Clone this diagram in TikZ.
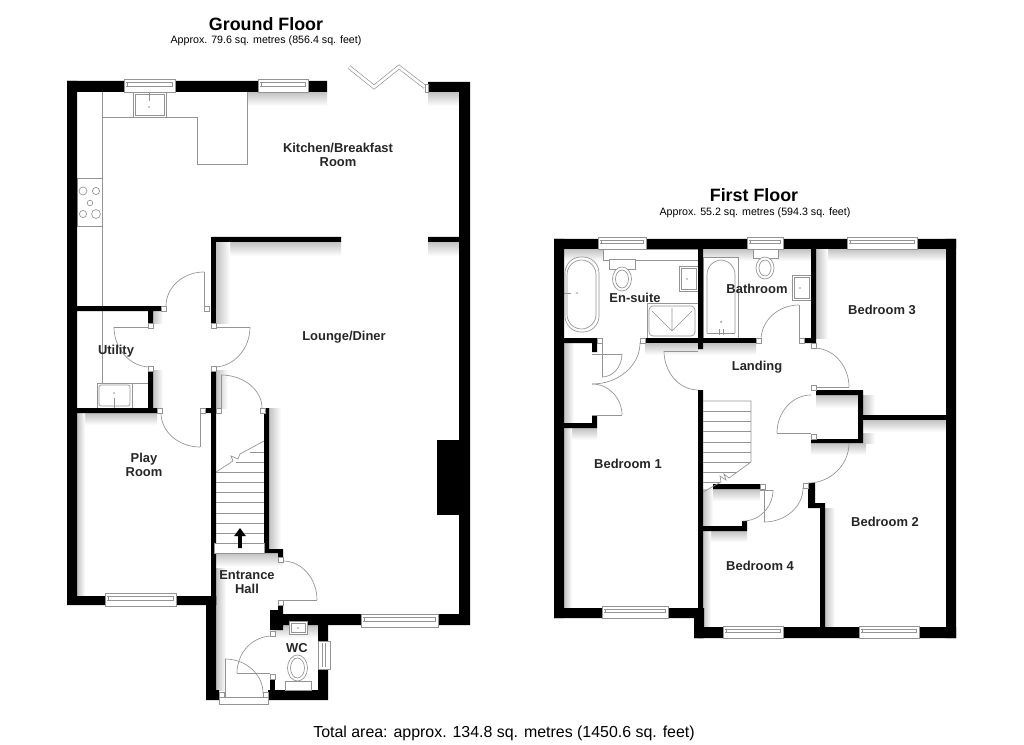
\documentclass[tikz,border=0pt]{standalone}
\usepackage{fontspec}
\setmainfont{Liberation Sans}
\usetikzlibrary{calc}

\definecolor{fixgray}{gray}{0.58}

\tikzset{
  wall/.style={fill=black},
  fixture/.style={draw=fixgray, line width=0.5pt, fill=white},
  doorline/.style={draw=fixgray, line width=0.5pt},
  jamb/.style={draw=fixgray, line width=0.5pt, fill=white},
  shadedown/.style={top color=black!24, bottom color=white, draw=none},
  shaderight/.style={left color=black!24, right color=white, draw=none},
  roomlabel/.style={font=\fontsize{9.7pt}{10.6pt}\selectfont\bfseries, align=center, text=black!85},
  title/.style={font=\fontsize{13.4pt}{15pt}\selectfont\bfseries},
  subtitle/.style={font=\fontsize{8pt}{9pt}\selectfont}
}

% quarter swing of a door: start, corner, end
\newcommand{\swing}[3]{\draw[doorline] (#1) .. controls ($(#1)!.55!(#2)$) and ($(#3)!.55!(#2)$) .. (#3);}

\begin{document}
\begin{tikzpicture}[x=0.75pt, y=-0.75pt]
  \useasboundingbox (0,0) rectangle (1024,745);
  \fill[white] (0,0) rectangle (1024,745);

  % Titles
  \node[title] (groundtitle) at (266,24) {Ground Floor};
  \node[subtitle] (groundarea) at (266,41) {Approx. 79.6 sq. metres (856.4 sq. feet)};
  \node[title] (firsttitle) at (754,195) {First Floor};
  \node[subtitle] (firstarea) at (755,213) {Approx. 55.2 sq. metres (594.3 sq. feet)};
  \node[font=\fontsize{11.95pt}{13pt}\selectfont] (totalarea) at (504,733) {Total area: approx. 134.8 sq. metres (1450.6 sq. feet)};

  % Shadows on the ground floor
  \shade[shadedown] (247,92) rectangle (327,106);
  \shade[shadedown] (428,92) rectangle (459,106);
  \shade[shadedown] (216,242) rectangle (341,256);
  \shade[shadedown] (428,242) rectangle (459,256);
  \shade[shaderight] (216,242) rectangle (230,323);
  \shade[shaderight] (153,311) rectangle (163,323);
  \shade[shaderight] (216,370) rectangle (228,408);
  \shade[shadedown] (77,413) rectangle (157,425);
  \shade[shaderight] (77,413) rectangle (85,596);
  \shade[shaderight] (153,370) rectangle (163,408);
  \shade[shaderight] (269,408) rectangle (281,549);
  \shade[shaderight] (216,553) rectangle (226,690);
  \shade[shadedown] (216,553) rectangle (283,567);
  \shade[shadedown] (275,625) rectangle (318,638);

  % Shadows on the first floor
  \shade[shadedown] (564,249) rectangle (698,261);
  \shade[shadedown] (703,249) rectangle (811,261);
  \shade[shadedown] (816,249) rectangle (946,261);
  \shade[shaderight] (816,249) rectangle (828,338);
  \shade[shadedown] (645,343) rectangle (756,355);
  \shade[shaderight] (564,343) rectangle (574,423);
  \shade[shadedown] (564,428) rectangle (597,440);
  \shade[shaderight] (564,428) rectangle (572,608);
  \shade[shadedown] (816,395) rectangle (858,408);
  \shade[shadedown] (811,443) rectangle (866,455);
  \shade[shaderight] (863,395) rectangle (875,443);
  \shade[shadedown] (863,420) rectangle (946,432);
  \shade[shadedown] (713,489) rectangle (760,501);
  \shade[shaderight] (703,489) rectangle (713,526);
  \shade[shadedown] (703,531) rectangle (747,542);
  \shade[shaderight] (703,531) rectangle (711,627);
  \shade[shaderight] (825,508) rectangle (835,627);

  % Kitchen units
  \draw[doorline] (102,92) -- (102,383);
  \draw[doorline] (102,117) -- (197.5,117) -- (197.5,164) -- (247,164) -- (247,92);
  \draw[fixture] (77,178) rectangle (102,226);
  \foreach \hx/\hy/\hr in {83/191/4, 96/191/3.6, 90/203/2.8, 83/214/3.6, 96/214/4.4}
    \draw[doorline] (\hx,\hy) circle (\hr);
  \draw[fixture] (133,92) rectangle (166,117);
  \draw[fixture] (135,94) rectangle (164,115);
  \draw[doorline] (149,92) -- (149,101);
  \fill[fixgray] (149,107) circle (0.8);

  % Utility units
  \draw[doorline] (102,383) -- (148,383);
  \draw[fixture] (97,383) rectangle (132,408);
  \draw[fixture, rounded corners=1.5pt] (99,385) rectangle (130,406);
  \draw[doorline] (114,398) -- (114,408);
  \fill[fixgray] (114,393) circle (0.8);

  % Ground floor walls
  \fill[wall] (67,81) rectangle (124,92) (175,81) rectangle (258,92) (308,81) rectangle (327,92);
  \fill[wall] (67,81) rectangle (77,605) (67,596) rectangle (105,605) (176,596) rectangle (216,605);
  \fill[wall] (428,82) rectangle (470,92) (459,82) rectangle (470,625) (438,614) rectangle (470,625);
  \fill[wall] (437,440) rectangle (459,515);
  \fill[wall] (212,237) rectangle (341,242) (428,237) rectangle (459,242);
  \fill[wall] (211,237) rectangle (216,323);
  \fill[wall] (77,306) rectangle (161,311) (148,311) rectangle (153,323);
  \fill[wall] (148,370) rectangle (153,408) (77,408) rectangle (157,413);
  \fill[wall] (205,408) rectangle (216,413) (211,370) rectangle (216,605);
  \fill[wall] (264,408) rectangle (269,553) (264,549) rectangle (283,553) (278,549) rectangle (283,557);
  % Hall, WC and porch walls
  \fill[wall] (206,596) rectangle (216,700) (206,690) rectangle (219,700);
  \fill[wall] (278,606) rectangle (283,614) (270,610) rectangle (283,630) (270,614) rectangle (361,625);
  \fill[wall] (318,625) rectangle (328,641) (318,669) rectangle (328,700) (268,690) rectangle (328,700);
  \fill[wall] (270,679) rectangle (275,690);

  % Stairs on the ground floor
  \draw[doorline] (216,472) -- (233,461) -- (231,456) -- (238,459) -- (240,454) -- (264,441);
  \foreach \sy in {472,482,492,502,513,523,533}
    \draw[doorline] (216,\sy) -- (264,\sy);
  \draw[doorline] (236,462) -- (264,462);
  \draw[doorline] (250,452) -- (264,452);
  \draw[fixture] (214,543) rectangle (264,553);
  \fill[black] (240,548) -- ++(-1.8,0) -- ++(0,-12) -- ++(-4,0) -- (240,528) -- (245.8,536) -- ++(-4,0) -- ++(0,12) -- cycle;

  % Ground floor windows
  \foreach \wa/\wb/\wy in {124/175/79, 258/308/79, 105/176/593, 361/438/614}{
    \draw[fixture] (\wa,\wy) rectangle (\wb,\wy+13);
    \draw[doorline] (\wa+2,\wy+3.5) -- (\wb-2,\wy+3.5) (\wa+2,\wy+7) -- (\wb-2,\wy+7);
    \draw[doorline] (\wa+3,\wy+3.5) -- (\wa+3,\wy+7) (\wb-3,\wy+3.5) -- (\wb-3,\wy+7);
  }
  \draw[fixture] (318,641) rectangle (330,669);
  \draw[doorline] (322,643) -- (322,667) (325.5,643) -- (325.5,667);

  % Folding door to the garden
  \draw[draw=fixgray, line width=0.5pt, double=white, double distance=2pt] (349,67) -- (374,87) -- (399,67) -- (425,87);
  \draw[jamb] (425,84) rectangle (428,92);

  % WC fittings
  \draw[fixture] (289,621) rectangle (307,634);
  \draw[fixture] (291,623) rectangle (305,632);
  \fill[fixgray] (298,628) circle (0.8);
  \draw[fixture] (285,681) rectangle (311,690);
  \draw[fixture] (297.5,668) ellipse (10 and 13);
  \draw[doorline] (297.5,668) ellipse (7 and 10);

  % Porch threshold
  \draw[fixture] (219,697) rectangle (268,704);
  \draw[jamb] (219,692) rectangle (224,697);
  \draw[jamb] (263,692) rectangle (268,697);

  % Ground floor door leaves
  \draw[doorline] (204,272) -- (204,306);
  \swing{204,272}{166,272}{166,306}
  \draw[doorline] (148,327) -- (114,327);
  \swing{114,327}{114,367}{150,367}
  \draw[doorline] (216,327) -- (250,327);
  \swing{250,327}{250,367}{214,367}
  \draw[doorline] (200,413) -- (200,447);
  \swing{200,447}{161,447}{161,413}
  \draw[doorline] (221,408) -- (221,375);
  \swing{221,375}{262,375}{262,408}
  \draw[doorline] (283,600) -- (317,600);
  \swing{317,600}{317,561}{283,561}
  \draw[doorline] (270,673) -- (237,673);
  \swing{237,673}{237,636}{272,636}
  \draw[doorline] (225,697) -- (225,659);
  \swing{225,659}{263,659}{263,693}
  \foreach \jx/\jy in {161/306, 204/306, 148/323, 148/366, 211/323, 211/366, 157/408, 200/408, 216/408, 260/408, 278/557, 278/600, 270/631, 270/674}
    \draw[jamb] (\jx,\jy) rectangle +(5,5);

  % En-suite fittings
  \draw[fixture, rounded corners=12pt] (565,257) rectangle (599,332);
  \draw[doorline, rounded corners=11pt] (567,260) rectangle (596,329);
  \fill[fixgray] (577,293) circle (0.8);
  \draw[doorline] (564,293) -- (571,293);
  \draw[fixture] (603,249) rectangle (698,260);
  \draw[fixture] (609,259) rectangle (635,269);
  \draw[fixture] (622,279) ellipse (9.5 and 12);
  \draw[doorline] (622,279) ellipse (6.5 and 9);
  \draw[fixture] (679,266) rectangle (698,291);
  \draw[fixture] (681,268) rectangle (696,289);
  \fill[fixgray] (687,279) circle (0.8);
  \draw[fixture] (647,303) rectangle (698,338);
  \draw[fixture, rounded corners=3pt] (649,306) rectangle (695,336);
  \draw[doorline] (652,311) -- (672,331) (672,308) -- (672,331) (692,311) -- (672,331);

  % Bathroom fittings
  \draw[fixture] (703,257) rectangle (738,338);
  \draw[doorline, rounded corners=11pt] (707,333) -- (707,260) -- (735,260) -- (735,333);
  \draw[doorline] (707,333) -- (735,333);
  \fill[fixgray] (721,322) circle (1);
  \draw[doorline] (719,329) -- (719,335) (723,329) -- (723,335);
  \draw[fixture] (753,249) rectangle (778,258);
  \draw[fixture] (765,268) ellipse (9 and 11);
  \draw[doorline] (765,268) ellipse (6 and 8);
  \draw[fixture] (792,275) rectangle (811,300);
  \draw[fixture] (794,277) rectangle (809,298);
  \fill[fixgray] (800,288) circle (0.8);

  % First floor walls
  \fill[wall] (554,239) rectangle (598,249) (646,239) rectangle (747,249) (783,239) rectangle (847,249) (917,239) rectangle (956,249);
  \fill[wall] (554,239) rectangle (564,618) (946,239) rectangle (956,638);
  \fill[wall] (554,608) rectangle (602,618) (668,608) rectangle (704,618) (694,608) rectangle (704,638);
  \fill[wall] (694,627) rectangle (723,638) (783,627) rectangle (859,638) (919,627) rectangle (956,638);
  \fill[wall] (698,249) rectangle (703,349) (698,390) rectangle (703,638);
  \fill[wall] (811,249) rectangle (816,343) (804,338) rectangle (816,343);
  \fill[wall] (645,338) rectangle (756,343);
  \fill[wall] (564,338) rectangle (597,343) (592,343) rectangle (597,352);
  \fill[wall] (592,415) rectangle (597,428) (564,423) rectangle (597,428);
  % Cupboard on the landing
  \fill[wall] (816,390) rectangle (863,395) (858,390) rectangle (863,443) (811,439) rectangle (863,443);
  \fill[wall] (863,415) rectangle (946,420);
  \fill[wall] (713,484) rectangle (760,489) (703,526) rectangle (747,531) (742,521) rectangle (747,531);
  % Bedroom 2 wall
  \fill[wall] (808,483) -- (815,483) -- (815,503) -- (825,503) -- (825,628) -- (820,628) -- (820,508) -- (808,508) -- cycle;

  % Stairs on the first floor
  \draw[doorline] (703,401) -- (751,401) -- (751,462) -- (729,478) -- (724,474) -- (726,480) -- (720,476) -- (721,482) -- (703,492);
  \foreach \sy in {411,421,431,442,452,462}
    \draw[doorline] (703,\sy) -- (751,\sy);
  \draw[doorline] (703,472) -- (737,472);
  \draw[doorline] (703,482) -- (720,482);

  % First floor windows
  \foreach \wa/\wb/\wy in {598/646/237, 747/783/237, 847/917/237, 602/668/606, 723/783/626, 859/919/626}{
    \draw[fixture] (\wa,\wy) rectangle (\wb,\wy+12);
    \draw[doorline] (\wa+2,\wy+3) -- (\wb-2,\wy+3) (\wa+2,\wy+6.5) -- (\wb-2,\wy+6.5);
    \draw[doorline] (\wa+3,\wy+3) -- (\wa+3,\wy+6.5) (\wb-3,\wy+3) -- (\wb-3,\wy+6.5);
  }

  % First floor door leaves
  \draw[doorline] (602,343) -- (602,377) (592,354) -- (622,354);
  \swing{622,354}{622,377}{602,377}
  \draw[doorline] (592,415) -- (622,415);
  \swing{622,415}{622,384}{592,384}
  \swing{640,343}{640,384}{592,384}
  \draw[doorline] (698,351) -- (664,351);
  \swing{664,351}{664,390}{698,390}
  \draw[doorline] (799,338) -- (799,305);
  \swing{799,305}{761,305}{761,340}
  \draw[doorline] (811,387) -- (849,387);
  \swing{849,387}{849,348}{814,348}
  \draw[doorline] (811,433) -- (777,433);
  \swing{777,433}{777,395}{811,395}
  \swing{849,443}{849,483}{808,483}
  \draw[doorline] (764,490) -- (764,522);
  \swing{764,522}{803,522}{803,488}
  \draw[doorline] (760,490) -- (773,490);
  \swing{773,490}{773,521}{743,521}
  \foreach \jx/\jy in {597/338, 640/338, 756/338, 799/338, 811/343, 811/385, 811/434, 760/484, 803/483}
    \draw[jamb] (\jx,\jy) rectangle +(5,5);

  % Room labels
  \node[roomlabel] (kitchen) at (338,155) {Kitchen/Breakfast\\Room};
  \node[roomlabel] (lounge) at (344,337) {Lounge/Diner};
  \node[roomlabel] (utility) at (116,351) {Utility};
  \node[roomlabel] (playroom) at (144,465) {Play\\Room};
  \node[roomlabel] (hall) at (247,582) {Entrance\\Hall};
  \node[roomlabel] (wc) at (297,648) {WC};
  \node[roomlabel] (ensuite) at (635,298) {En-suite};
  \node[roomlabel] (bathroom) at (757,289) {Bathroom};
  \node[roomlabel] (landing) at (757,367) {Landing};
  \node[roomlabel] (bedone) at (628,464) {Bedroom 1};
  \node[roomlabel] (bedtwo) at (885,522) {Bedroom 2};
  \node[roomlabel] (bedthree) at (882,310) {Bedroom 3};
  \node[roomlabel] (bedfour) at (760,566) {Bedroom 4};
\end{tikzpicture}
\end{document}
